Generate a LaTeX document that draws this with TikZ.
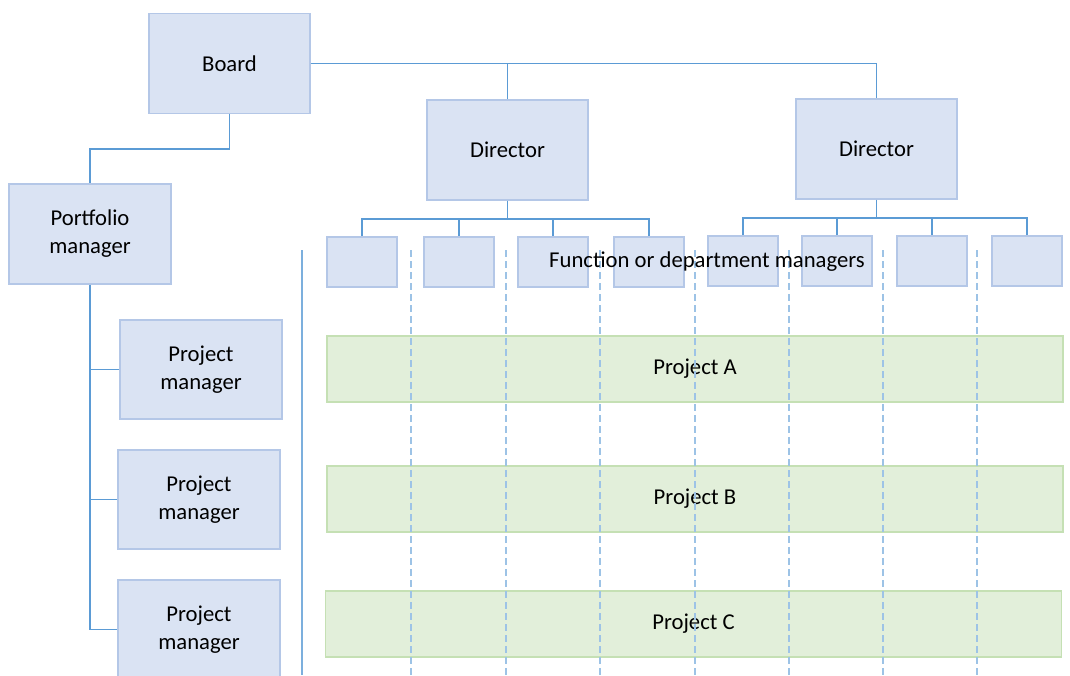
\documentclass[tikz,border=0pt]{standalone}
\usepackage{fontspec}
\setmainfont{Carlito}
\definecolor{boxfill}{HTML}{DAE3F3}
\definecolor{boxline}{HTML}{B4C7E7}
\definecolor{projfill}{HTML}{E2EFDA}
\definecolor{projline}{HTML}{C5E0B4}
\definecolor{conn}{HTML}{5B9BD5}
\definecolor{dashc}{HTML}{9DC3E6}
\begin{document}
\begin{tikzpicture}[x=0.75pt,y=-0.75pt,
  txt/.style={font=\fontsize{17}{21}\selectfont},
  box/.style={draw=boxline,fill=boxfill,line width=0.8pt,inner sep=0pt,
    minimum width=120.75pt,minimum height=75pt,align=center,txt},
  fbox/.style={draw=boxline,fill=boxfill,line width=0.8pt,inner sep=0pt,
    minimum width=52.5pt,minimum height=37.5pt},
  proj/.style={draw=projline,fill=projfill,line width=0.8pt,inner sep=0pt,
    minimum width=552pt,minimum height=49.5pt,txt},
  link/.style={draw=conn,line width=0.8pt},
  lane/.style={draw=dashc,line width=1pt,dash pattern=on 5.25pt off 3pt},
  solidlane/.style={draw=conn!80,line width=0.8pt}]
\useasboundingbox (0,0) rectangle (1070,675);
\begin{scope}
\clip (0,0) rectangle (1070,675);
% main boxes
\node[box] (board) at (229.5,63.5) {Board};
\node[box] (dir1) at (507.5,150) {Director};
\node[box] (dir2) at (876.5,149) {Director};
\node[box,minimum width=121.5pt] (port) at (90,234) {Portfolio\\manager};
\node[box,minimum width=121.5pt,minimum height=74.25pt] (pm1) at (201,369.5) {Project\\manager};
\node[box,minimum width=121.5pt,minimum height=74.25pt] (pm2) at (199,499.5) {Project\\manager};
\node[box,minimum width=121.5pt,minimum height=74.25pt] (pm3) at (199,629.5) {Project\\manager};
% function boxes
\node[fbox] (f1) at (362,262) {};
\node[fbox] (f2) at (459,262) {};
\node[fbox] (f3) at (553,262) {};
\node[fbox] (f4) at (649,262) {};
\node[fbox] (f5) at (743,261) {};
\node[fbox] (f6) at (837,261) {};
\node[fbox] (f7) at (932,261) {};
\node[fbox] (f8) at (1027,261) {};
% projects
\node[proj] (pa) at (695,369) {Project A};
\node[proj] (pb) at (695,499) {Project B};
\node[proj] (pc) at (693.5,624) {Project C};
% connectors
\draw[link] (board.east) -| (dir2.north);
\draw[link] (dir1.north) -- (dir1.north |- board.east);
\coordinate (bp) at (229.5,149);
\draw[link] (board.south) -- (bp) -| (port.north);
\draw[link] (port.south) |- (pm3.west);
\draw[link] (pm1.west) -- (pm1.west -| port.south);
\draw[link] (pm2.west) -- (pm2.west -| port.south);
\coordinate (d1b) at (507.5,219);
\coordinate (d2b) at (876.5,218);
\draw[link] (dir1.south) -- (d1b);
\draw[link] (dir2.south) -- (d2b);
\foreach \f in {f1,f2,f3,f4} \draw[link] (d1b) -| (\f.north);
\foreach \f in {f5,f6,f7,f8} \draw[link] (d2b) -| (\f.north);
% lanes
\coordinate (s0) at (302,250); \coordinate (e0) at (302,675);
\draw[solidlane] (s0) -- (e0);
\foreach \x in {411,506,600,695,789,883,977}{
  \coordinate (ls) at (\x,250); \coordinate (le) at (\x,675);
  \draw[lane] (ls) -- (le);
}
\node[txt,inner sep=0pt] (fdm) at (707,262) {Function or department managers};
\end{scope}
\end{tikzpicture}
\end{document}
